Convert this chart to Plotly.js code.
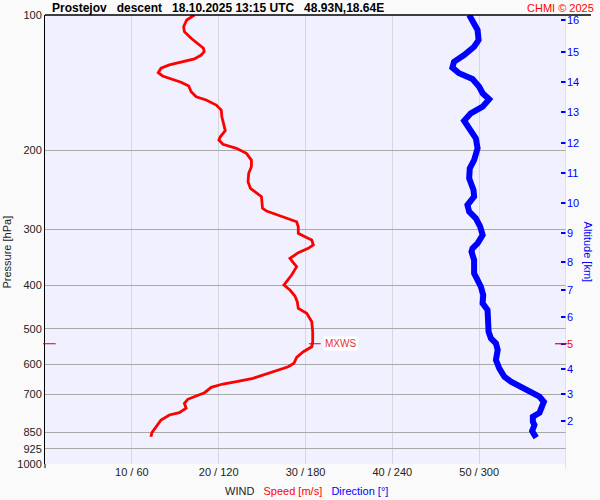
<!DOCTYPE html>
<html>
<head>
<meta charset="utf-8">
<script src="https://cdn.plot.ly/plotly-3.0.1.min.js"></script>
<style>html,body{margin:0;padding:0;background:#fafafa;}#chart{width:600px;height:500px;}</style>
</head>
<body>
<div id="chart"></div>
<script>
// Wind speed profile [m/s] vs pressure [hPa]
const speedPressure = [100, 102.6, 106.2, 108.9, 112.7, 115.6, 118.6, 120.7, 122.8, 125.3, 127.1, 129.2, 131.4, 134.4, 136.7, 138.9, 141.2, 143.9, 148.2, 152.1, 154.6, 158.7, 162.8, 168.5, 175.8, 181.0, 186.7, 189.9, 194.1, 198.1, 203.3, 210.4, 217.7, 225.2, 235.1, 243.2, 253.9, 269.5, 273.2, 280.3, 284.7, 288.7, 296.2, 306.4, 311.7, 317.1, 325.3, 330.9, 338.4, 348.3, 356.2, 363.6, 379.4, 394.7, 399.4, 409.8, 422.6, 435.1, 450.1, 461.8, 482.1, 507.5, 534.2, 548.1, 562.2, 578.6, 596.7, 607.2, 615.3, 630.3, 644.4, 655.7, 663.5, 674.8, 693.8, 705.6, 717.7, 732.5, 751.5, 768.7, 777.8, 798.0, 825.9, 851.7, 869.4];
const speed = [17.21, 16.32, 15.97, 16.05, 16.83, 17.59, 18.25, 18.33, 17.99, 17.21, 15.86, 14.32, 13.36, 13.04, 13.54, 14.51, 15.67, 16.55, 16.83, 17.41, 18.56, 19.72, 20.30, 20.37, 20.60, 20.76, 20.19, 20.02, 20.49, 22.04, 23.19, 23.77, 23.77, 23.46, 23.38, 23.66, 24.93, 25.05, 25.51, 27.05, 28.21, 28.98, 29.17, 29.17, 29.94, 30.72, 30.90, 30.32, 29.17, 28.21, 28.59, 28.98, 28.40, 27.63, 27.51, 28.21, 28.78, 29.05, 29.17, 30.14, 30.72, 30.83, 30.83, 30.72, 29.75, 28.98, 28.67, 28.01, 27.05, 25.51, 23.96, 22.04, 20.49, 19.14, 18.37, 17.41, 16.44, 16.05, 16.25, 15.47, 14.32, 13.36, 12.78, 12.31, 12.20];

// Wind direction profile [deg] vs pressure [hPa]
const dirPressure = [100, 103.5, 108.0, 113.7, 117.7, 122.8, 127.1, 131.0, 134.8, 138.9, 144.5, 149.4, 154.1, 160.0, 165.6, 172.0, 178.8, 188.2, 198.1, 210.4, 219.5, 231.1, 245.4, 253.9, 265.0, 274.2, 283.7, 296.2, 309.0, 322.5, 330.9, 336.7, 351.3, 376.1, 389.3, 402.9, 420.4, 438.7, 454.1, 478.0, 507.5, 524.9, 538.6, 557.3, 586.6, 612.2, 639.1, 655.7, 672.8, 690.2, 708.1, 726.6, 751.5, 768.7, 784.6, 805.0, 818.7, 844.4, 861.8, 873.8];
const direction = [293.1, 295.4, 298.9, 299.6, 296.5, 289.6, 282.6, 281.5, 286.1, 295.4, 300.0, 302.4, 306.9, 302.4, 294.2, 289.6, 293.1, 297.7, 298.9, 296.5, 293.5, 293.1, 296.1, 296.5, 291.9, 293.1, 297.7, 300.7, 302.4, 298.9, 295.4, 294.7, 296.5, 296.5, 298.9, 301.2, 302.8, 302.4, 305.8, 306.5, 306.5, 308.1, 311.6, 312.8, 311.6, 313.9, 317.4, 322.0, 329.0, 334.7, 341.7, 344.7, 342.8, 341.7, 337.1, 337.1, 338.2, 336.6, 338.2, 339.4];

// Axes
const pressureTicks = [100, 200, 300, 400, 500, 600, 700, 850, 925, 1000];
const speedTicks = [10, 20, 30, 40, 50, 60];
const speedTickText = ['10 / 60', '20 / 120', '30 / 180', '40 / 240', '50 / 300', ''];
const altitudeKm = [2, 3, 4, 5, 6, 7, 8, 9, 10, 11, 12, 13, 14, 15, 16];
const altitudePressure = [802.1, 699.4, 614.4, 539.7, 469.8, 409.0, 355.4, 305.4, 262.7, 225.3, 193.1, 164.7, 141.2, 120.7, 102.8];

// Maximum wind marker
const mxwsPressure = 539.7;
const mxwsSpeed = 30.9;

const FONT = 'Liberation Sans, Arial, sans-serif';
const L = Math.log10;
const pTop = 100, pBottom = 1000;
// fraction of plot height for a pressure (for paper-referenced marks)
const pFrac = p => (L(pBottom) - L(p)) / (L(pBottom) - L(pTop));

const traces = [
  {x: direction, y: dirPressure, xaxis: 'x2', yaxis: 'y2', type: 'scatter', mode: 'lines',
   line: {color: '#0000ff', width: 6}, hoverinfo: 'none'},
  {x: speed, y: speedPressure, xaxis: 'x', yaxis: 'y', type: 'scatter', mode: 'lines',
   line: {color: '#ff0000', width: 2.8}, hoverinfo: 'none'}
];

const yRange = [L(pBottom), L(pTop)];
const mxY = pFrac(mxwsPressure);

const layout = {
  width: 600, height: 500,
  margin: {l: 45, r: 34, t: 15, b: 36, pad: 0},
  paper_bgcolor: '#fafafa',
  plot_bgcolor: '#f0f0ff',
  showlegend: false,
  font: {family: FONT, size: 11, color: '#222'},
  xaxis: {
    range: [0, 60], tickvals: speedTicks, ticktext: speedTickText,
    showgrid: true, gridcolor: '#d6d6de', gridwidth: 1, zeroline: false,
    showline: false, ticks: '', tickfont: {size: 11, color: '#222'}
  },
  xaxis2: {range: [0, 360], overlaying: 'x', visible: false},
  yaxis: {
    type: 'log', range: yRange, tickvals: pressureTicks, ticktext: pressureTicks.map(String),
    showgrid: true, gridcolor: '#a8a8a8', gridwidth: 1, zeroline: false,
    showline: true, linecolor: '#000', linewidth: 1, ticks: '',
    tickfont: {size: 11, color: '#222'}
  },
  yaxis2: {
    type: 'log', range: yRange, overlaying: 'y', side: 'right',
    tickvals: altitudePressure,
    ticktext: altitudeKm.map(k => k === 5 ? '<span style="color:#ff0000">5</span>' : String(k)),
    ticks: 'inside', ticklen: 5, tickwidth: 2, tickcolor: '#0000ff',
    tickfont: {size: 11, color: '#0000ff'},
    showgrid: false, zeroline: false, showline: false
  },
  shapes: [
    {type: 'line', xref: 'x', yref: 'paper', x0: 60, x1: 60, y0: -0.012, y1: 1, line: {color: '#d0d0d8', width: 1}},
    {type: 'line', xref: 'paper', yref: 'paper', x0: 0, x1: 0, y0: -0.009, y1: 0, line: {color: '#000', width: 1}},
    {type: 'line', xref: 'paper', yref: 'paper', x0: 0, x1: 1.048, y0: 1, y1: 1, line: {color: '#000', width: 1.5}},
    {type: 'line', xref: 'paper', yref: 'paper', x0: -0.004, x1: 0.0205, y0: mxY, y1: mxY, line: {color: '#e00000', width: 1}},
    {type: 'line', xref: 'paper', yref: 'paper', x0: 0.979, x1: 1.002, y0: mxY, y1: mxY, line: {color: '#e00000', width: 1.2}},
    {type: 'line', xref: 'x', yref: 'paper', x0: mxwsSpeed - 0.5, x1: mxwsSpeed + 0.85, y0: mxY, y1: mxY, line: {color: '#e00000', width: 1}}
  ],
  annotations: [
    {xref: 'paper', yref: 'paper', x: 0.0096, y: 1.0167, xanchor: 'left', yanchor: 'middle', showarrow: false,
     text: '<b>Prostejov\u00a0\u00a0\u00a0descent\u00a0\u00a0\u00a018.10.2025 13:15 UTC\u00a0\u00a0\u00a048.93N,18.64E</b>',
     font: {family: FONT, size: 12, color: '#000'}},
    {xref: 'paper', yref: 'paper', x: 1.0576, y: 1.0167, xanchor: 'right', yanchor: 'middle', showarrow: false,
     text: 'CHMI © 2025', font: {family: FONT, size: 11, color: '#ff0000'}},
    {xref: 'paper', yref: 'paper', x: 0.502, y: -0.060, xanchor: 'center', yanchor: 'middle', showarrow: false,
     text: 'WIND\u00a0\u00a0\u00a0<span style="color:#ff0000">Speed [m/s]</span>\u00a0\u00a0\u00a0<span style="color:#0000ff">Direction [°]</span>',
     font: {family: FONT, size: 11, color: '#222'}},
    {xref: 'paper', yref: 'paper', x: -0.072, y: 0.472, xanchor: 'center', yanchor: 'middle', showarrow: false,
     textangle: -90, text: 'Pressure [hPa]', font: {family: FONT, size: 11, color: '#222'}},
    {xref: 'paper', yref: 'paper', x: 1.044, y: 0.471, xanchor: 'center', yanchor: 'middle', showarrow: false,
     textangle: 90, text: 'Altitude [km]', font: {family: FONT, size: 11, color: '#0000ff'}},
    {xref: 'x', yref: 'paper', x: 32.0, y: mxY, xanchor: 'left', yanchor: 'middle', showarrow: false,
     text: 'MXWS', bgcolor: '#ffffff', borderpad: 1, font: {family: FONT, size: 10, color: '#e83030'}}
  ]
};

Plotly.newPlot('chart', traces, layout, {staticPlot: true, displayModeBar: false});
</script>
</body>
</html>
